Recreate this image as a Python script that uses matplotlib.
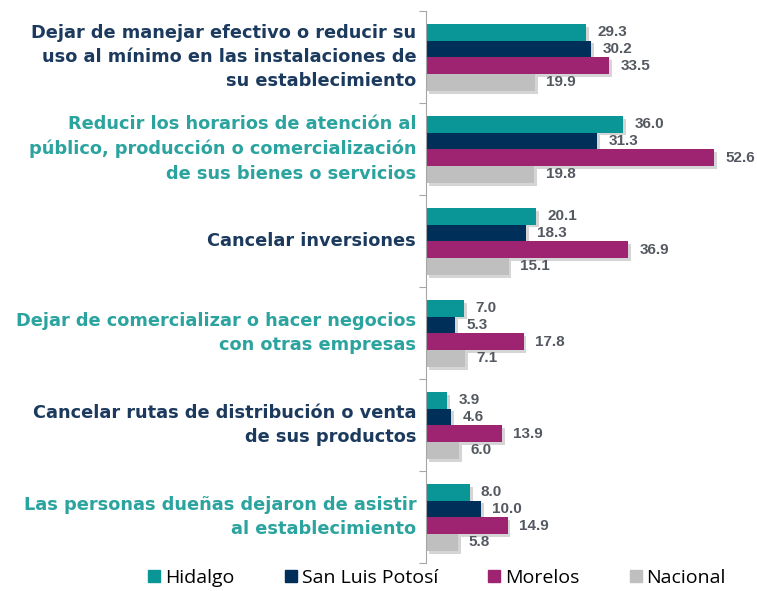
import numpy as np
import matplotlib.pyplot as plt
import matplotlib.patheffects as pe
from matplotlib.lines import Line2D
from matplotlib.transforms import blended_transform_factory

plt.rcParams['font.family'] = 'Liberation Sans'

# data
categories = [
    "Dejar de manejar efectivo o reducir su\nuso al mínimo en las instalaciones de\nsu establecimiento",
    "Reducir los horarios de atención al\npúblico, producción o comercialización\nde sus bienes o servicios",
    "Cancelar inversiones",
    "Dejar de comercializar o hacer negocios\ncon otras empresas",
    "Cancelar rutas de distribución o venta\nde sus productos",
    "Las personas dueñas dejaron de asistir\nal establecimiento",
]
series_names = ["Hidalgo", "San Luis Potosí", "Morelos", "Nacional"]
hidalgo = [29.3, 36.0, 20.1, 7.0, 3.9, 8.0]
slp = [30.2, 31.3, 18.3, 5.3, 4.6, 10.0]
morelos = [33.5, 52.6, 36.9, 17.8, 13.9, 14.9]
nacional = [19.9, 19.8, 15.1, 7.1, 6.0, 5.8]

colors = ["#0A9696", "#002F5A", "#9E2472", "#BFBFBF"]
label_colors = ["#1B3A5E", "#2BA39E"]
value_color = "#545860"

fig = plt.figure(figsize=(7.57, 5.91), dpi=100)
ax = fig.add_axes([0.5628, 0.0474, 0.4340, 0.934])

n = len(categories)
bar_h = 0.182
all_series = [hidalgo, slp, morelos, nacional]
shadow = [pe.SimplePatchShadow(offset=(2, -2), alpha=0.35, shadow_rgbFace="#888888"), pe.Normal()]

for i, vals in enumerate(all_series):
    ys = np.arange(n) + 0.14 + bar_h * (i + 0.5)
    bars = ax.barh(ys, vals, height=bar_h, color=colors[i], label=series_names[i],
                   edgecolor='none')
    for b in bars:
        b.set_path_effects(shadow)
    for y, v in zip(ys, vals):
        ax.annotate(f"{v:.1f}", xy=(v, y), xytext=(8, 0), textcoords='offset points',
                    ha='left', va='center', fontsize=11, fontweight='bold', color=value_color)

ax.set_ylim(n, 0)
ax.set_xlim(0, 60)

trans = blended_transform_factory(ax.transAxes, ax.transData)
for j, cat in enumerate(categories):
    ax.text(-0.03, j + 0.5, cat, transform=trans, ha='right', va='center',
            fontsize=12.8, fontweight='bold', color=label_colors[j % 2], linespacing=1.45,
            family='DejaVu Sans')

for s in ['top', 'right', 'bottom']:
    ax.spines[s].set_visible(False)
ax.spines['left'].set_color('#A6A6A6')
ax.set_xticks([])
ax.set_yticks(np.arange(n + 1))
ax.set_yticklabels([])
ax.tick_params(axis='y', length=5, color='#A6A6A6', direction='out')

handles = [Line2D([], [], marker='s', linestyle='none', markersize=9, color=c) for c in colors]
fig.legend(handles, series_names, loc='center', bbox_to_anchor=(0.575, 0.022), ncol=4,
           frameon=False, prop={'family': 'Open Sans', 'size': 14},
           handletextpad=0.05, handlelength=1.0, columnspacing=2.4)

fig.savefig('out.png', dpi=100)
